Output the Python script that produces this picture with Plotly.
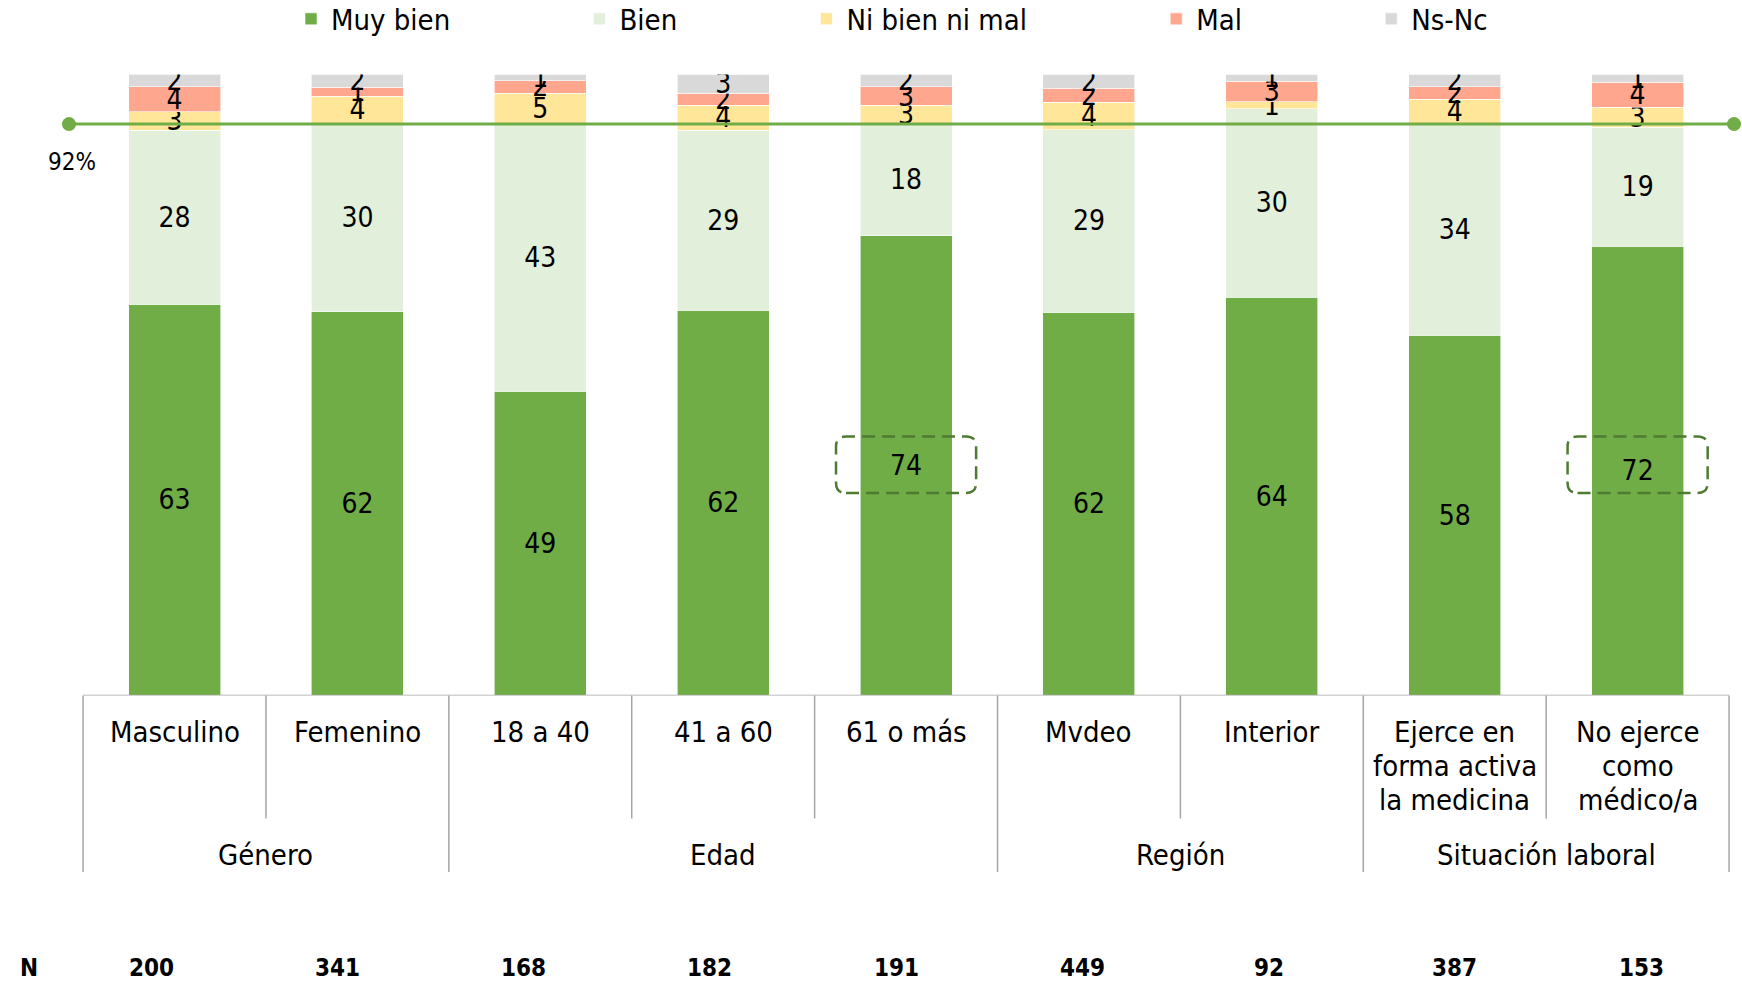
import plotly.graph_objects as go

# ---------------- data ----------------
categories = ["Masculino", "Femenino", "18 a 40", "41 a 60", "61 o más", "Mvdeo", "Interior",
              "Ejerce en<br>forma activa<br>la medicina", "No ejerce<br>como<br>médico/a"]
groups = ["Género", "Edad", "Región", "Situación laboral"]
group_sizes = [2, 3, 2, 2]
muy_bien = [63, 61.8, 49, 62, 74, 61.7, 64.1, 58, 72.3]
bien = [28, 30.3, 43, 29, 18, 29.4, 30.4, 34, 19.2]
ni_bien_ni_mal = [3, 4.4, 5, 4, 3, 4.4, 1.1, 4, 3.2]
mal = [4, 1.4, 2, 2, 3, 2.3, 3.3, 2, 4.0]
ns_nc = [2, 2.1, 1, 3, 2, 2.2, 1.1, 2, 1.3]
n_values = [200, 341, 168, 182, 191, 449, 92, 387, 153]
reference_value = 92
highlighted = [4, 8]

series_names = ["Muy bien", "Bien", "Ni bien ni mal", "Mal", "Ns-Nc"]
series_values = [muy_bien, bien, ni_bien_ni_mal, mal, ns_nc]
series_colors = ["#70ad47", "#e2efda", "#ffe699", "#ffa68f", "#d9d9d9"]

# ---------------- layout helpers ----------------
W, H = 1742, 982
FONT = "DejaVu Sans Condensed, DejaVu Sans, sans-serif"
GRAY = "#a6a6a6"


def xp(px):
    return px / W


def py(px):
    return 1 - px / H


x_range = [-0.577, 8.527]
x_domain = [xp(69), xp(1734)]
y_domain = [py(695.5), py(74.4)]

fig = go.Figure()

xs = list(range(len(categories)))
n_series = len(series_names)
for k, (name, vals, col) in enumerate(zip(series_names, series_values, series_colors)):
    label = name + ("\u00a0" * 15 if k < n_series - 1 else "")
    fig.add_trace(go.Bar(
        x=xs, y=vals, name=label,
        marker=dict(color=col, line=dict(color="white", width=0.6)),
        text=[f"{v:.0f}" for v in vals],
        textposition="inside", insidetextanchor="middle", constraintext="none",
        textangle=0,
        textfont=dict(family=FONT, size=28, color="black"),
        hoverinfo="skip",
    ))

# reference line
fig.add_trace(go.Scatter(
    x=x_range, y=[reference_value, reference_value], mode="lines+markers",
    line=dict(color="#70ad47", width=3), marker=dict(color="#70ad47", size=14),
    cliponaxis=False, showlegend=False, hoverinfo="skip",
))

shapes = []
annotations = []

# baseline
shapes.append(dict(type="line", xref="x", yref="y", x0=-0.5, x1=len(categories) - 0.5, y0=0, y1=0,
                   line=dict(color=GRAY, width=1.5)))

# dividers
group_bounds = [-0.5]
for s in group_sizes:
    group_bounds.append(group_bounds[-1] + s)
for b in range(len(categories) + 1):
    xb = b - 0.5
    bottom = 872 if xb in group_bounds else 818.5
    shapes.append(dict(type="line", xref="x", yref="paper", x0=xb, x1=xb, y0=py(695.5), y1=py(bottom),
                       line=dict(color=GRAY, width=1.5)))

# category labels (one annotation per line, fixed line spacing)
for i, c in enumerate(categories):
    for j, line in enumerate(c.split("<br>")):
        annotations.append(dict(x=i, y=py(732 + 34 * j), xref="x", yref="paper", text=line, showarrow=False,
                                xanchor="center", yanchor="middle",
                                font=dict(family=FONT, size=29, color="black")))

# group labels
for g, gs, left in zip(groups, group_sizes, group_bounds[:-1]):
    annotations.append(dict(x=left + gs / 2, y=py(855), xref="x", yref="paper", text=g, showarrow=False,
                            xanchor="center", yanchor="middle",
                            font=dict(family=FONT, size=29, color="black")))

# N row
annotations.append(dict(x=xp(29), y=py(968), xref="paper", yref="paper", text="<b>N</b>", showarrow=False,
                        xanchor="center", yanchor="middle", font=dict(family=FONT, size=24, color="black")))
for i, n in enumerate(n_values):
    annotations.append(dict(x=xp(151 + i * 186.25), y=py(968), xref="paper", yref="paper", text=f"<b>{n}</b>",
                            showarrow=False, xanchor="center", yanchor="middle",
                            font=dict(family=FONT, size=24, color="black")))

# reference label
annotations.append(dict(x=xp(72), y=py(162), xref="paper", yref="paper", text=f"{reference_value}%",
                        showarrow=False, xanchor="center", yanchor="middle",
                        font=dict(family=FONT, size=24, color="black")))

# highlight boxes
px_per_x = (1734 - 69) / (x_range[1] - x_range[0])
px_per_y = (695.5 - 74.4) / 100
rx, ry = 10 / px_per_x, 10 / px_per_y
for i in highlighted:
    x0, x1 = i - 0.383, i + 0.383
    y0, y1 = 32.6, 41.7
    path = (f"M {x0+rx},{y0} L {x1-rx},{y0} Q {x1},{y0} {x1},{y0+ry} L {x1},{y1-ry} "
            f"Q {x1},{y1} {x1-rx},{y1} L {x0+rx},{y1} Q {x0},{y1} {x0},{y1-ry} "
            f"L {x0},{y0+ry} Q {x0},{y0} {x0+rx},{y0} Z")
    shapes.append(dict(type="path", xref="x", yref="y", path=path,
                       line=dict(color="#4f7a32", width=2.5, dash="13px,7px"), layer="above"))

fig.update_layout(
    width=W, height=H, margin=dict(l=0, r=0, t=0, b=0, autoexpand=False),
    paper_bgcolor="white", plot_bgcolor="white",
    barmode="stack", bargap=1 - 92 / 182.9,
    xaxis=dict(range=x_range, domain=x_domain, showgrid=False, zeroline=False, showticklabels=False,
               showline=False, ticks=""),
    yaxis=dict(range=[0, 100], domain=y_domain, showgrid=False, zeroline=False, showticklabels=False,
               showline=False, ticks=""),
    legend=dict(orientation="h", x=xp(291), y=py(19),
                xanchor="left", yanchor="middle",
                traceorder="normal", font=dict(family=FONT, size=29, color="black"),
                bgcolor="rgba(0,0,0,0)"),
    shapes=shapes, annotations=annotations,
    font=dict(family=FONT),
)

fig.write_html("out.html", config={"displayModeBar": False},
               post_script="document.body.style.margin='0';")
